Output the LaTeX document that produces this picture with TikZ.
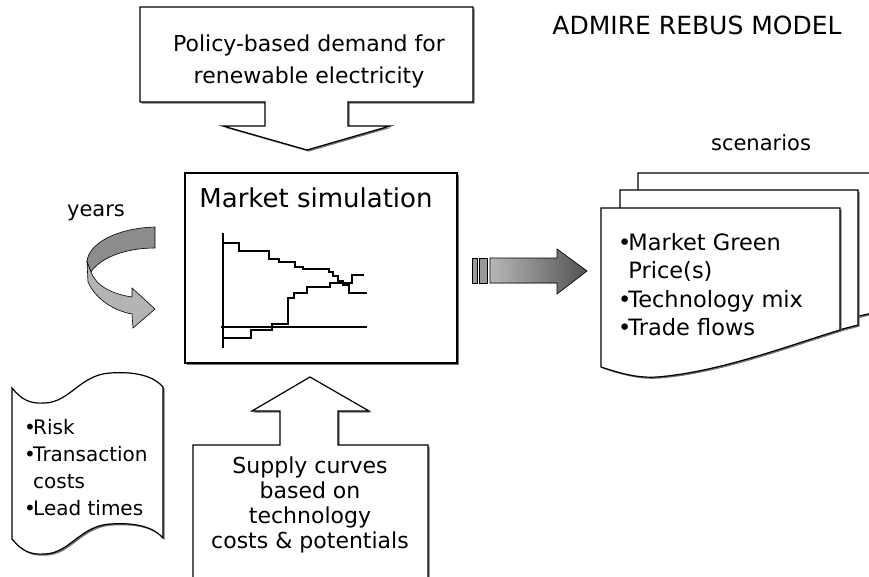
\documentclass[tikz,border=0pt]{standalone}
\usepackage{fontspec}
\setmainfont{DejaVu Sans}
\usetikzlibrary{shadows}
\definecolor{bandgray}{RGB}{140,140,140}
\definecolor{lightband}{RGB}{180,180,180}

\begin{document}
\begin{tikzpicture}[
    x=1pt, y=-1pt,
    boxline/.style={draw=black, line width=1.2pt, fill=white, line join=miter,
                    drop shadow={shadow xshift=1.6pt, shadow yshift=-1.6pt, fill=black!55, opacity=1}},
    plotline/.style={line width=1.1pt},
    label text/.style={inner sep=0pt, align=center}
]
    \clip (0,0) rectangle (869,577);
    \fill[white] (0,0) rectangle (869,577);

    % Demand callout (arrow pointing down)
    \path[boxline] (140,7) -- (473,7) -- (473,102) -- (348,102) -- (348,126) -- (390,126)
        -- (307,150) -- (223,126) -- (265,126) -- (265,102) -- (140,102) -- cycle;
    \node[label text, font=\fontsize{22}{32}\selectfont] (policy) at (309,61)
        {Policy-based demand for\\renewable electricity};

    % Title
    \node[label text, font=\fontsize{25}{30}\selectfont] (title) at (697,25) {ADMIRE REBUS MODEL};

    % Simulation box with price paths
    \path[boxline] (185,173) rectangle (457,363);
    \node[label text, font=\fontsize{26}{30}\selectfont] (market) at (316,198) {Market simulation};
    \draw[plotline] (223,233) -- (223,348);
    \draw[plotline] (221,327) -- (367,327);
    \draw[plotline] (223,243) -| (239,251) -| (269,259) -| (279,262) -| (295,267) -| (303,269)
        -| (329,272) -| (333,276) -| (338,281) -| (343,285) -| (349,293) -- (367,293);
    \draw[plotline] (223,338) -| (251,330) -| (272,324) -| (288,298) -| (294,293) -| (307,287)
        -| (330,283) -| (352,275) -- (364,275);

    % Years loop
    \node[label text, font=\fontsize{21}{25}\selectfont] (years) at (96,213) {years};
    \filldraw[fill=bandgray, line width=0.6pt] (155,227) .. controls (118,228) and (88,243) .. (87,262)
        -- (91,272) .. controls (100,258) and (125,248) .. (155,248) -- cycle;
    \filldraw[fill=lightband, line width=0.6pt] (87,262) -- (88,282) .. controls (96,300) and (115,311) .. (132,314)
        -- (133,328) -- (155,309) -- (132,288) -- (132,297) .. controls (112,294) and (96,286) .. (91,272) -- cycle;

    % Output arrow
    \filldraw[fill=black!40, line width=0.6pt] (472,258) rectangle (477,283);
    \filldraw[fill=black!40, line width=0.6pt] (479,258) rectangle (487,283);
    \filldraw[left color=black!28, right color=black!68, line width=0.6pt]
        (490,258) -- (557,258) -- (557,249) -- (587,271) -- (557,294) -- (557,283) -- (490,283) -- cycle;

    % Scenario pages
    \node[label text, font=\fontsize{21}{25}\selectfont] (scen) at (761,143) {scenarios};
    \path[boxline] (638,173) -- (885,173) -- (885,310) .. controls (820,325) and (720,350) .. (675,345)
        .. controls (660,344) and (650,340) .. (638,333) -- cycle;
    \path[boxline] (620,190) -- (858,190) -- (858,325) .. controls (800,340) and (720,362) .. (675,360)
        .. controls (650,358) and (640,355) .. (620,350) -- cycle;
    \path[boxline] (601,208) -- (840,208) -- (840,330) .. controls (790,345) and (720,372) .. (657,377)
        .. controls (640,378) and (625,375) .. (601,367) -- cycle;
    \node[inner sep=0pt, anchor=west, align=left, font=\fontsize{22.5}{28.5}\selectfont] (results) at (618,284.5)
        {\makebox[0.45em][l]{\textbullet}Market Green\\\hspace*{0.45em}Price(s)\\
         \makebox[0.45em][l]{\textbullet}Technology mix\\\makebox[0.45em][l]{\textbullet}Trade flows};

    % Side factors (punched tape)
    \path[boxline] (12,388) .. controls (22,400) and (30,404) .. (45,403) .. controls (70,402) and (80,375) .. (110,373)
        .. controls (140,371) and (155,378) .. (163,387) -- (163,538)
        .. controls (155,529) and (140,522) .. (110,524) .. controls (80,526) and (70,553) .. (45,554)
        .. controls (30,555) and (22,551) .. (12,539) -- cycle;
    \node[inner sep=0pt, anchor=west, align=left, font=\fontsize{20}{27}\selectfont] (factors) at (24,467.5)
        {\makebox[0.45em][l]{\textbullet}Risk\\\makebox[0.45em][l]{\textbullet}Transaction\\
         \hspace*{0.45em}costs\\\makebox[0.45em][l]{\textbullet}Lead times};

    % Supply callout (arrow pointing up)
    \path[boxline] (193,600) -- (193,445) -- (280,445) -- (280,411) -- (252,411) -- (310,377)
        -- (369,411) -- (338,411) -- (338,445) -- (428,445) -- (428,600) -- cycle;
    \node[label text, font=\fontsize{22}{25}\selectfont] (supply) at (310,504.5)
        {Supply curves\\based on\\technology\\costs \& potentials};
\end{tikzpicture}
\end{document}
